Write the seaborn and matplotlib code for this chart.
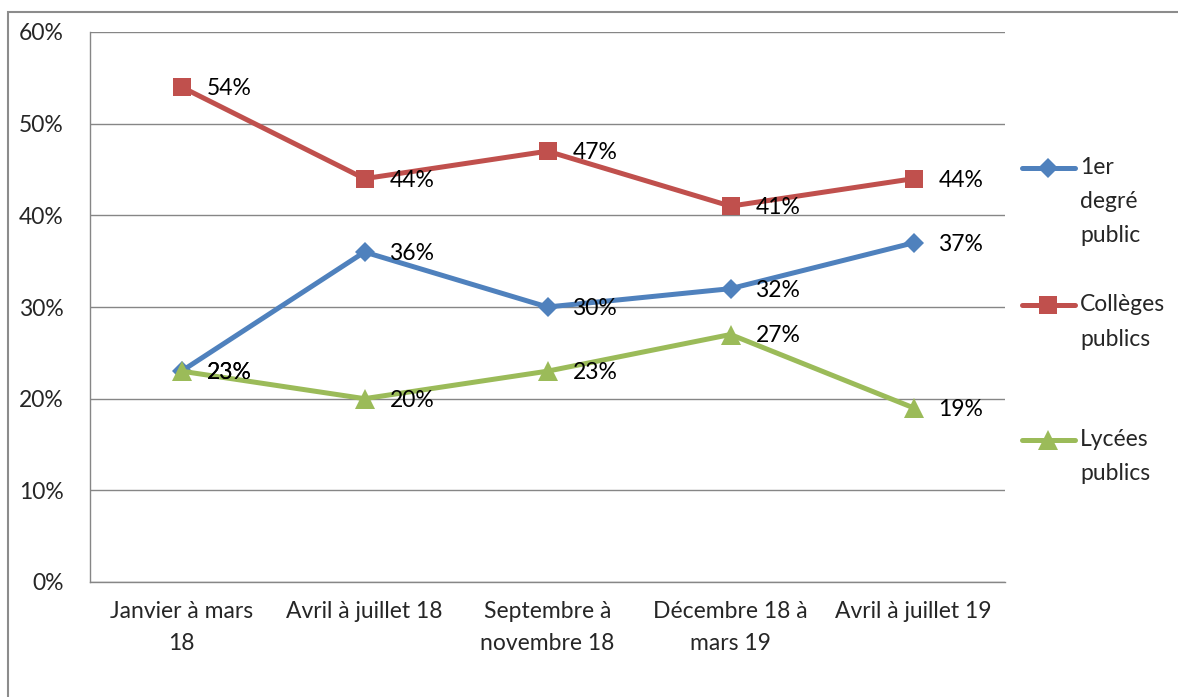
import matplotlib.pyplot as plt
from matplotlib.lines import Line2D
from matplotlib.patches import Rectangle
import pandas as pd
import seaborn as sns

periods = ['Janvier à mars\n18', 'Avril à juillet 18', 'Septembre à\nnovembre 18',
           'Décembre 18 à\nmars 19', 'Avril à juillet 19']
premier_degre = [23, 36, 30, 32, 37]
colleges = [54, 44, 47, 41, 44]
lycees = [23, 20, 23, 27, 19]

series = [
    (['1er', 'degré', 'public'], premier_degre, '#4F81BD', 'D', 10),
    (['Collèges', 'publics'], colleges, '#C0504D', 's', 12.5),
    (['Lycées', 'publics'], lycees, '#9BBB59', '^', 14),
]

FS = 16.5
sns.set_style('white')
plt.rcParams['font.family'] = ['Lato', 'DejaVu Sans']
plt.rcParams['font.size'] = FS

fig = plt.figure(figsize=(11.78, 6.97), dpi=100)
ax = fig.add_axes([90 / 1178, 1 - 582 / 697, (1005 - 90) / 1178, (582 - 32) / 697])

pos = list(range(len(periods)))
for labels, vals, color, marker, ms in series:
    df = pd.DataFrame({'pos': pos, 'val': vals})
    sns.lineplot(data=df, x='pos', y='val', color=color, lw=3.6, marker=marker,
                 markersize=ms, markeredgewidth=0, ax=ax, zorder=3)
    for x, v in zip(pos, vals):
        ax.annotate(f'{v}%', (x, v), xytext=(18, -1), textcoords='offset points',
                    va='center', ha='left', fontsize=FS, color='black', zorder=4)

ax.set_xlim(-0.5, len(periods) - 0.5)
ax.set_ylim(0, 60)
ax.set_yticks(range(0, 61, 10))
ax.set_yticklabels([f'{t}%' for t in range(0, 61, 10)])
ax.set_xticks([p - 0.5 for p in range(len(periods) + 1)])
ax.set_xticklabels([])
ax.set_xticks(pos, minor=True)
ax.set_xticklabels(periods, minor=True, linespacing=1.6)
ax.tick_params(axis='x', which='minor', length=0, pad=14, labelsize=FS)
ax.tick_params(axis='x', which='major', length=7, width=1, color='#868686', direction='out')
ax.tick_params(axis='y', length=7, width=1, color='#868686', direction='out', pad=12, labelsize=FS)
ax.set_xlabel('')
ax.set_ylabel('')
ax.yaxis.grid(True, color='#868686', lw=1)
ax.set_axisbelow(True)
for s in ['top', 'right']:
    ax.spines[s].set_visible(False)
for s in ['left', 'bottom']:
    ax.spines[s].set_color('#868686')
    ax.spines[s].set_linewidth(1)

# legend drawn by hand to keep Excel-like wrapped labels
leg_y = [168, 305, 440]
for (labels, vals, color, marker, ms), yp in zip(series, leg_y):
    fy = 1 - yp / 697
    fig.add_artist(Line2D([1022 / 1178, 1048 / 1178, 1075 / 1178], [fy, fy, fy],
                          color=color, lw=3.6, marker=marker, markersize=ms,
                          markeredgewidth=0, markevery=[1], transform=fig.transFigure))
    for k, line in enumerate(labels):
        fig.text(1080 / 1178, 1 - (yp + 34 * k) / 697, line, va='center', ha='left', fontsize=FS)

fig.add_artist(Rectangle((8 / 1178, -0.1), 1.2, 1.1 - 12 / 697, transform=fig.transFigure,
                         fill=False, edgecolor='#8c8c8c', lw=1.5))

fig.savefig('out.png', dpi=100, facecolor='white')
